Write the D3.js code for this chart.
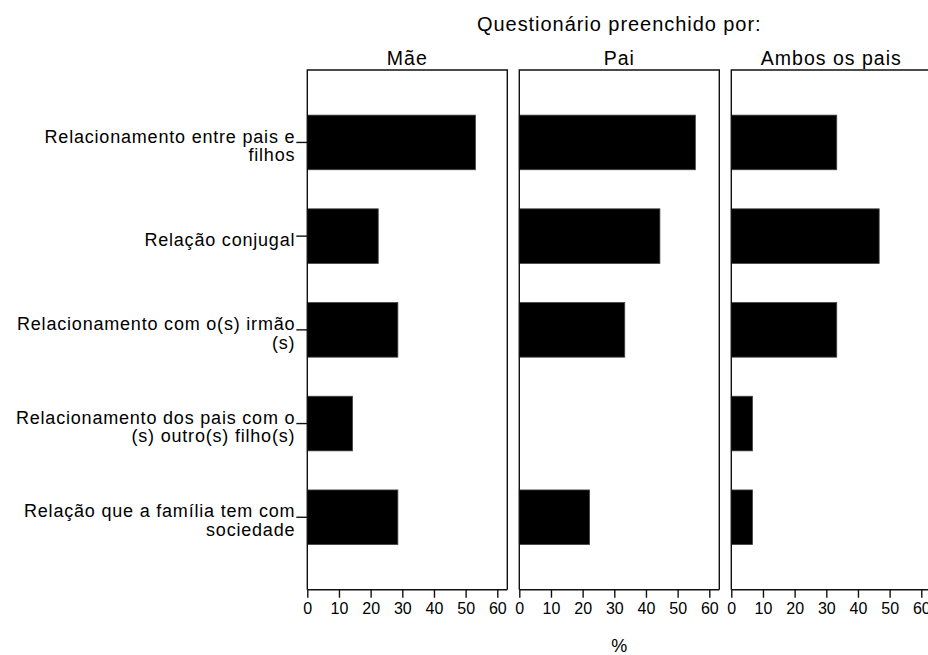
<!DOCTYPE html>
<html>
<head>
<meta charset="utf-8">
<script src="https://cdn.jsdelivr.net/npm/d3@7"></script>
<style>
  html, body { margin: 0; padding: 0; background: #fff; }
  svg { display: block; }
  text { font-family: "Liberation Sans", Arial, Helvetica, sans-serif; fill: #000; }
</style>
</head>
<body>
<svg id="chart" width="928" height="655"></svg>
<script>
// ---- data ----
const categories = [
  ["Relacionamento entre pais e", "filhos"],
  ["Relação conjugal"],
  ["Relacionamento com o(s) irmão", "(s)"],
  ["Relacionamento dos pais com o", "(s) outro(s) filho(s)"],
  ["Relação que a família tem com", "sociedade"]
];
const panels = ["Mãe", "Pai", "Ambos os pais"];
const valuesMae   = [53.1, 22.4, 28.6, 14.3, 28.6];
const valuesPai   = [55.6, 44.4, 33.3, 0, 22.2];
const valuesAmbos = [33.3, 46.7, 33.3, 6.7, 6.7];
const tickValues  = [0, 10, 20, 30, 40, 50, 60];
const chartTitle  = "Questionário preenchido por:";
const axisTitle   = "%";

const series = [valuesMae, valuesPai, valuesAmbos];

// ---- layout ----
const svg = d3.select("#chart");
const topY = 70, bottomY = 589.7;
const firstLeft = 307.3, panelW = 200, panelGap = 12;
const catKeys = categories.map((c, i) => i);

const y = d3.scaleBand()
  .domain(catKeys)
  .range([topY, bottomY])
  .paddingInner(0.417)
  .paddingOuter(0.4815);

const x = d3.scaleLinear().domain([0, 63.16]).range([0, panelW]);

// chart title, centred on the middle panel
const midCenter = firstLeft + (panelW + panelGap) + panelW / 2;
svg.append("text")
  .attr("x", midCenter).attr("y", 31)
  .attr("text-anchor", "middle")
  .style("font-size", "20px").style("letter-spacing", "0.95px")
  .text(chartTitle);

panels.forEach((name, p) => {
  const left = firstLeft + p * (panelW + panelGap);
  const g = svg.append("g").attr("transform", `translate(${left},0)`);

  // bars
  g.selectAll("rect.bar")
    .data(series[p])
    .join("rect")
    .attr("class", "bar")
    .attr("x", x(0))
    .attr("y", (d, i) => y(i))
    .attr("width", d => x(d) - x(0))
    .attr("height", y.bandwidth())
    .attr("fill", "#000")
    .attr("stroke", "#444")
    .attr("stroke-width", 0.8);

  // frame (left, top, right)
  g.append("path")
    .attr("d", `M${x(0)},${bottomY}V${topY}H${panelW}V${bottomY}`)
    .attr("fill", "none")
    .attr("stroke", "#111")
    .attr("stroke-width", 1.4);

  // x axis
  const ax = g.append("g")
    .attr("transform", `translate(0,${bottomY})`)
    .call(d3.axisBottom(x).tickValues(tickValues).tickSize(8).tickPadding(5).tickSizeOuter(0));
  ax.select(".domain").attr("stroke", "#111").attr("stroke-width", 1.4)
    .attr("d", `M0,0H${panelW}`);
  ax.selectAll(".tick line").attr("stroke", "#111").attr("stroke-width", 1.4);
  ax.selectAll(".tick text")
    .attr("fill", "#000")
    .style("font-size", "16px")
    .style("font-family", '"Liberation Sans", Arial, sans-serif');

  // panel title
  g.append("text")
    .attr("x", panelW / 2).attr("y", 65)
    .attr("text-anchor", "middle")
    .style("font-size", "19.5px").style("letter-spacing", "1px")
    .text(name);
});

// y axis (category labels) on first panel
const yAxisG = svg.append("g").attr("transform", `translate(${firstLeft},0)`);
yAxisG.selectAll("line.ytick")
  .data(catKeys)
  .join("line")
  .attr("class", "ytick")
  .attr("x1", -11).attr("x2", 0)
  .attr("y1", i => y(i) + y.bandwidth() / 2)
  .attr("y2", i => y(i) + y.bandwidth() / 2)
  .attr("stroke", "#111").attr("stroke-width", 1.4);

const lineH = 18.7;
yAxisG.selectAll("text.ylab")
  .data(categories)
  .join("text")
  .attr("class", "ylab")
  .attr("text-anchor", "end")
  .style("font-size", "18px").style("letter-spacing", "0.8px")
  .each(function(lines, i) {
    const c = y(i) + y.bandwidth() / 2;
    const base = c + 9.5 - (lines.length - 1) * lineH / 2;
    d3.select(this).selectAll("tspan")
      .data(lines)
      .join("tspan")
      .attr("x", -12)
      .attr("y", (l, k) => base + k * lineH)
      .text(l => l);
  });

// axis title
svg.append("text")
  .attr("x", midCenter).attr("y", 652)
  .attr("text-anchor", "middle")
  .style("font-size", "18px")
  .text(axisTitle);
</script>
</body>
</html>
